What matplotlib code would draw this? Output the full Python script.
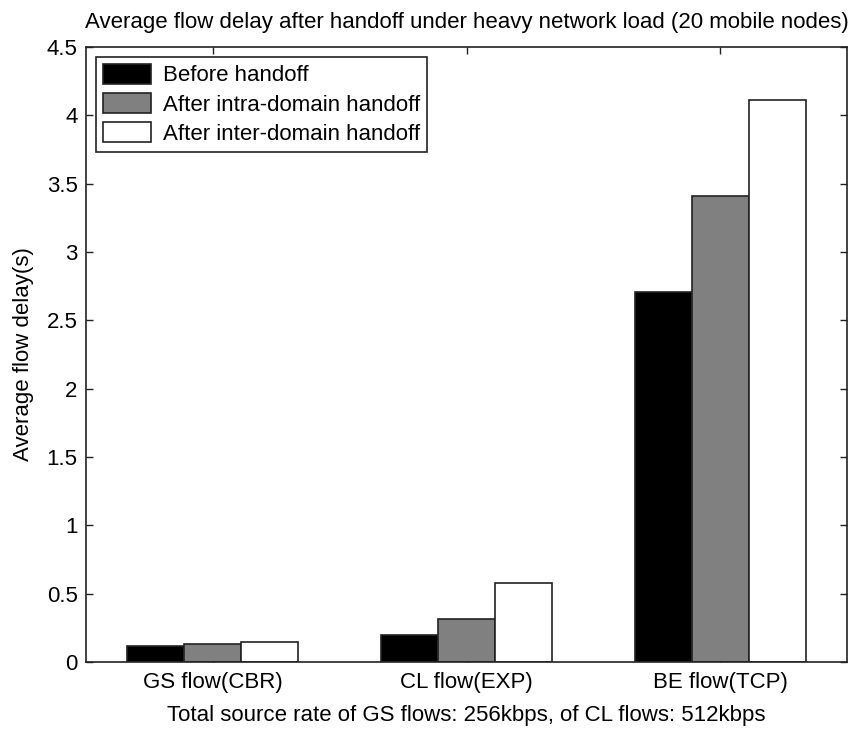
import matplotlib
matplotlib.use("Agg")
import matplotlib.pyplot as plt
from matplotlib.patches import Rectangle
from matplotlib.legend_handler import HandlerPatch
import numpy as np

# Flow categories and average delays (seconds)
categories = ["GS flow(CBR)", "CL flow(EXP)", "BE flow(TCP)"]
series_names = ["Before handoff", "After intra-domain handoff", "After inter-domain handoff"]
before_handoff = [0.117, 0.196, 2.71]
after_intra = [0.130, 0.313, 3.41]
after_inter = [0.144, 0.576, 4.11]
series_colors = ["#000000", "#808080", "#ffffff"]

y_ticks = [0, 0.5, 1, 1.5, 2, 2.5, 3, 3.5, 4, 4.5]
y_tick_labels = ["0", "0.5", "1", "1.5", "2", "2.5", "3", "3.5", "4", "4.5"]

plt.rcParams["font.family"] = ["Liberation Sans", "DejaVu Sans"]
FS = 16
EDGE = "#222222"

fig = plt.figure(figsize=(8.51, 7.29), dpi=100)
ax = fig.add_axes([86 / 851, 67 / 729, 761 / 851, 615 / 729])

x = np.arange(1, len(categories) + 1)
bar_w = 0.225
offsets = [-bar_w, 0.0, bar_w]
for vals, name, col, off in zip([before_handoff, after_intra, after_inter],
                                series_names, series_colors, offsets):
    ax.bar(x + off, vals, width=bar_w, color=col, edgecolor=EDGE,
           linewidth=1.2, label=name, zorder=2)

ax.set_xlim(0.5, 3.5)
ax.set_ylim(0, 4.5)
ax.set_xticks(x)
ax.set_xticklabels(categories, fontsize=FS)
ax.set_yticks(y_ticks)
ax.set_yticklabels(y_tick_labels, fontsize=FS)
ax.tick_params(axis="both", direction="in", length=5, width=1, top=True, right=True,
               color=EDGE)
ax.tick_params(axis="x", pad=7)
ax.tick_params(axis="y", pad=6)
for s in ax.spines.values():
    s.set_linewidth(1.2)
    s.set_color(EDGE)

ax.set_title("Average flow delay after handoff under heavy network load (20 mobile nodes)",
             fontsize=FS, pad=14)
ax.set_xlabel("Total source rate of GS flows: 256kbps, of CL flows: 512kbps",
              fontsize=FS, labelpad=9)
ax.set_ylabel("Average flow delay(s)", fontsize=FS, labelpad=9)


# Legend swatches inset slightly from the left edge of the handle box
SHIFT = 6.0


def swatch(legend, orig_handle, xdescent, ydescent, width, height, fontsize):
    return Rectangle((-xdescent + SHIFT, -ydescent), width - SHIFT, height)


leg = ax.legend(loc="upper left", bbox_to_anchor=(0.013, 0.984), borderaxespad=0,
                fontsize=FS, fancybox=False, framealpha=1, edgecolor=EDGE,
                handlelength=48 / 22.2, handleheight=1.02, handletextpad=0.54,
                labelspacing=0.3, borderpad=0.3,
                handler_map={Rectangle: HandlerPatch(patch_func=swatch)})
leg.get_frame().set_linewidth(1.2)

fig.savefig("out.png", dpi=100)
